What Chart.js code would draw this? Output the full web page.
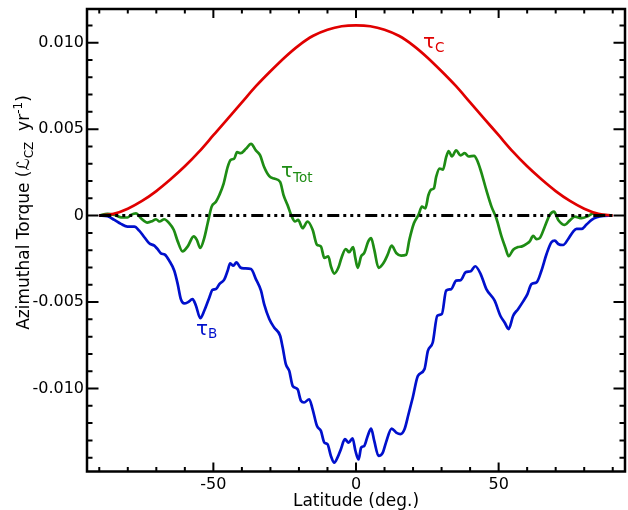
<!DOCTYPE html>
<html>
<head>
<meta charset="utf-8">
<script src="https://cdn.jsdelivr.net/npm/chart.js@4.4.1/dist/chart.umd.min.js"></script>
<style>
  html, body { margin: 0; padding: 0; background: #fff; }
  canvas { display: block; }
</style>
</head>
<body>
<canvas id="torque" width="628" height="510"></canvas>
<script>
const FONT = '"DejaVu Sans", Verdana, sans-serif';

// tau_C (red), read every 5 deg of latitude
const redLat = [-90, -85, -80, -75, -70, -65, -60, -55, -50, -45, -40, -35, -30, -25, -20, -15, -10, -5, 0,
                5, 10, 15, 20, 25, 30, 35, 40, 45, 50, 55, 60, 65, 70, 75, 80, 85, 90];
const redVal = [0, 0.0001, 0.0004, 0.00085, 0.00142, 0.0021, 0.00285, 0.0037, 0.00465, 0.0056, 0.00655,
                0.0075, 0.00835, 0.00915, 0.00985, 0.0104, 0.01075, 0.01095, 0.011,
                0.01095, 0.01075, 0.0104, 0.00985, 0.00915, 0.00835, 0.0075, 0.00655, 0.0056, 0.00465,
                0.0037, 0.00285, 0.0021, 0.00142, 0.00085, 0.0004, 0.0001, 0];

// tau_B (blue)
const blueLat = [-90, -87.1, -84.7, -82.4, -80.1, -77.7, -76, -74.2, -72.5, -70.7, -69.6, -68.4, -67, -65.5,
                 -63.7, -62.5, -61.4, -60.2, -59, -57.3, -56.1, -54.6, -53.2, -51.4, -50.3, -49.1, -47.9,
                 -46.2, -45, -44.1, -43, -41.9, -40.6, -39.2, -36.8, -35.1, -33.3, -32.2, -30.4, -28.7,
                 -26.6, -25.7, -24.6, -23.4, -22.2, -20.5, -19.3, -18.2, -16.4, -15.2, -13.7, -12.3, -11.1,
                 -10, -8.8, -7.6, -6.5, -5.3, -3.9, -2.6, -1.2, -0.2, 0.9, 1.8, 2.9, 4.1, 5.3, 6.4, 7.9,
                 9.4, 10.5, 12.5, 14.1, 15.6, 17, 18.4, 19.9, 21.7, 24, 25.2, 26.9, 28.5, 30.1, 31.6, 33.4,
                 35.1, 36.7, 38.4, 40.2, 41.8, 43.7, 45.7, 48.6, 50.6, 52.1, 53.5, 55.1, 56.8, 58.6, 60.1,
                 61.5, 63.3, 65, 66.8, 68.5, 69.7, 70.9, 72.6, 74.4, 76.2, 77.3, 79.1, 80.8, 82.6, 84.4,
                 86.7, 89.6];
const blueVal = [0, -0.00004, -0.00025, -0.00048, -0.00064, -0.00064, -0.00087, -0.00125, -0.0016, -0.00174,
                 -0.00193, -0.00218, -0.00226, -0.0026, -0.00319, -0.00396, -0.00483, -0.00508, -0.00502,
                 -0.00483, -0.00521, -0.00593, -0.0055, -0.00473, -0.0043, -0.00425, -0.00396, -0.0037,
                 -0.00319, -0.00276, -0.0029, -0.0027, -0.00299, -0.00305, -0.00309, -0.00367, -0.00434,
                 -0.00512, -0.00598, -0.00647, -0.00695, -0.00763, -0.00859, -0.00898, -0.00985, -0.01004,
                 -0.01071, -0.01081, -0.01062, -0.0112, -0.01216, -0.01245, -0.01313, -0.01322, -0.0139,
                 -0.01429, -0.014, -0.01351, -0.01293, -0.01313, -0.01288, -0.0136, -0.0141, -0.01342,
                 -0.01332, -0.01274, -0.01232, -0.01303, -0.0139, -0.01371, -0.01313, -0.01232, -0.01255,
                 -0.01264, -0.01236, -0.01149, -0.01052, -0.00927, -0.00888, -0.00782, -0.00734, -0.00579,
                 -0.00569, -0.00434, -0.00425, -0.00376, -0.00373, -0.00328, -0.00322, -0.00293, -0.00338,
                 -0.00425, -0.00492, -0.00579, -0.00618, -0.00656, -0.00579, -0.00541, -0.00496, -0.00454,
                 -0.00396, -0.00386, -0.00319, -0.00222, -0.00154, -0.00145, -0.00164, -0.0017, -0.00135,
                 -0.00091, -0.00077, -0.00077, -0.00052, -0.00025, -0.0001, -0.00002, 0];

// tau_Tot (green)
const greenLat = [-90, -87.1, -84.7, -82.4, -80.1, -78.9, -77.1, -75.4, -73.1, -71.3, -70.1, -68.9, -67.2,
                  -65.5, -63.9, -62.5, -60.8, -59, -56.9, -55.8, -54.6, -53.2, -52, -50.6, -49.1, -47.9,
                  -46.4, -45, -43.9, -42.7, -41.7, -40.4, -38.6, -36.8, -35.1, -33.6, -32.2, -30.4, -28.7,
                  -26.6, -25.4, -24, -22.6, -21.4, -20.3, -18.7, -17, -15.2, -13.7, -12.3, -11.1, -9.7,
                  -8.8, -7.6, -6.2, -5.1, -3.6, -2.4, -1, -0.3, 0.6, 1.8, 2.9, 4.3, 5.3, 6.4, 7.9, 9.7,
                  11.1, 12.5, 14.1, 15.8, 17.6, 18.7, 20.3, 21.9, 23.1, 24.3, 25.4, 26.4, 27.3, 28.1, 29.3,
                  30.5, 31.6, 32.5, 33.6, 35.1, 36.7, 38.1, 39.5, 41.4, 42.5, 43.9, 45.7, 47.5, 49.2, 51,
                  52.4, 53.5, 55.1, 56.8, 58.2, 59.8, 60.9, 62.1, 63.3, 64.4, 66.2, 67.9, 69.4, 70.9, 73.2,
                  74.9, 76.7, 79.1, 81.4, 83.2, 85.5, 89.6];
const greenVal = [0, 0.0001, 0.00004, -0.0001, -0.00011, 0.00004, 0.00013, -0.00015, -0.0004, -0.00031,
                  -0.00021, -0.00034, -0.00021, -0.00044, -0.00082, -0.00149, -0.00207, -0.00178, -0.0012,
                  -0.0014, -0.00187, -0.0013, -0.00044, 0.00052, 0.0008, 0.00119, 0.00185, 0.00281, 0.00323,
                  0.00329, 0.00367, 0.00361, 0.00386, 0.00415, 0.00377, 0.00348, 0.00281, 0.00228, 0.00214,
                  0.00195, 0.00119, 0.00061, -0.00002, -0.00034, -0.00025, -0.00073, -0.00034, -0.00082,
                  -0.00168, -0.00178, -0.00245, -0.00235, -0.00293, -0.00335, -0.00302, -0.00245, -0.00193,
                  -0.00212, -0.00182, -0.0024, -0.00302, -0.00235, -0.00216, -0.00149, -0.0013, -0.00197,
                  -0.00302, -0.00273, -0.00226, -0.00174, -0.00216, -0.00231, -0.00226, -0.0014, -0.00044,
                  0.00004, 0.00052, 0.00042, 0.00119, 0.00151, 0.00157, 0.00224, 0.00272, 0.00266, 0.00338,
                  0.00373, 0.00342, 0.00377, 0.00348, 0.00361, 0.00342, 0.00346, 0.00319, 0.00252, 0.00147,
                  0.00052, -0.00015, -0.0012, -0.00187, -0.00235, -0.00197, -0.00182, -0.00178, -0.00163,
                  -0.00149, -0.00117, -0.00136, -0.0013, -0.00063, 0.00004, 0.00023, -0.00025, -0.00054,
                  -0.00029, -0.00006, -0.00015, -0.00002, 0.00013, 0.00004, 0];

// reference line at zero
const zeroLat = [-90, 90];
const zeroVal = [0, 0];

const xMajor = [-50, 0, 50];
const yMajor = [0.010, 0.005, 0, -0.005, -0.010];
const yTickText = ['0.010', '0.005', '0', '-0.005', '-0.010'];

function pts(xs, ys) {
  return xs.map((x, i) => ({ x: x, y: ys[i] }));
}

// draws a run of [text, size, dy] pieces starting at x
function drawRun(ctx, parts, x, y) {
  parts.forEach(p => {
    ctx.font = p[1] + 'px ' + FONT;
    ctx.fillText(p[0], x, y + p[2]);
    x += ctx.measureText(p[0]).width;
  });
}
function runWidth(ctx, parts) {
  let w = 0;
  parts.forEach(p => {
    ctx.font = p[1] + 'px ' + FONT;
    w += ctx.measureText(p[0]).width;
  });
  return w;
}

const frame = {
  id: 'frame',
  afterDraw(chart) {
    const { ctx, chartArea: a, scales: { x, y } } = chart;
    ctx.save();
    ctx.strokeStyle = '#000';
    ctx.lineWidth = 2.5;
    ctx.strokeRect(a.left, a.top, a.right - a.left, a.bottom - a.top);

    // inward ticks on all four sides
    ctx.lineWidth = 2;
    ctx.beginPath();
    for (let v = -90; v <= 90; v += 10) {
      const px = x.getPixelForValue(v);
      const len = v % 50 === 0 ? 9 : 4.5;
      ctx.moveTo(px, a.bottom); ctx.lineTo(px, a.bottom - len);
      ctx.moveTo(px, a.top); ctx.lineTo(px, a.top + len);
    }
    for (let k = -14; k <= 11; k++) {
      const py = y.getPixelForValue(k / 1000);
      const len = k % 5 === 0 ? 11.5 : 5.5;
      ctx.moveTo(a.left, py); ctx.lineTo(a.left + len, py);
      ctx.moveTo(a.right, py); ctx.lineTo(a.right - len, py);
    }
    ctx.stroke();

    // axis titles
    ctx.fillStyle = '#000';
    ctx.textBaseline = 'alphabetic';
    ctx.textAlign = 'center';
    ctx.font = '17px ' + FONT;
    ctx.fillText('Latitude (deg.)', (a.left + a.right) / 2, 506);

    ctx.textAlign = 'left';
    const yTitle = [
      ['Azimuthal Torque (', 17, 0],
      ['\u2112', 17, 0],
      ['CZ', 12, 4],
      ['  yr', 17, 0],
      ['-1', 12, -7],
      [')', 17, 0]
    ];
    ctx.save();
    ctx.translate(28.5, 212.5);
    ctx.rotate(-Math.PI / 2);
    drawRun(ctx, yTitle, -runWidth(ctx, yTitle) / 2, 0);
    ctx.restore();

    // curve labels
    ctx.fillStyle = '#e00000';
    drawRun(ctx, [['\u03c4', 20, 0], ['C', 13.5, 4]], 423, 48);
    ctx.fillStyle = '#1e8c14';
    drawRun(ctx, [['\u03c4', 20, 0], ['Tot', 13.5, 5]], 281, 177);
    ctx.fillStyle = '#0010cc';
    drawRun(ctx, [['\u03c4', 20, 0], ['B', 13.5, 3]], 196, 335);
    ctx.restore();
  }
};

new Chart(document.getElementById('torque'), {
  type: 'line',
  data: {
    datasets: [
      { data: pts(zeroLat, zeroVal), borderColor: '#000', borderWidth: 3,
        borderDash: [12, 4, 3, 4, 3, 4, 3, 5], borderCapStyle: 'butt' },
      { data: pts(redLat, redVal), borderColor: '#e00000' },
      { data: pts(blueLat, blueVal), borderColor: '#0010cc' },
      { data: pts(greenLat, greenVal), borderColor: '#1e8c14' }
    ]
  },
  options: {
    responsive: false,
    animation: false,
    layout: { padding: { left: 0, right: 3, top: 9, bottom: 0 } },
    plugins: { legend: { display: false }, tooltip: { enabled: false } },
    elements: {
      point: { radius: 0 },
      line: { borderWidth: 2.7, cubicInterpolationMode: 'monotone', fill: false }
    },
    scales: {
      x: {
        type: 'linear', min: -94.3, max: 94.3,
        grid: { display: false, drawTicks: false },
        border: { display: false },
        afterBuildTicks: s => { s.ticks = xMajor.map(v => ({ value: v })); },
        afterFit: s => { s.height = 38.5; s.paddingLeft = 0; s.paddingRight = 0; },
        ticks: { font: { family: FONT, size: 16 }, color: '#000', padding: 4,
                 maxRotation: 0, autoSkip: false, callback: v => String(v) }
      },
      y: {
        type: 'linear', min: -0.0148, max: 0.01195,
        grid: { display: false, drawTicks: false },
        border: { display: false },
        afterBuildTicks: s => { s.ticks = yMajor.map(v => ({ value: v })); },
        afterFit: s => { s.width = 87; s.paddingTop = 0; s.paddingBottom = 0; },
        ticks: { font: { family: FONT, size: 16 }, color: '#000', padding: 3,
                 autoSkip: false, callback: (v, i) => yTickText[i] }
      }
    }
  },
  plugins: [frame]
});
</script>
</body>
</html>
